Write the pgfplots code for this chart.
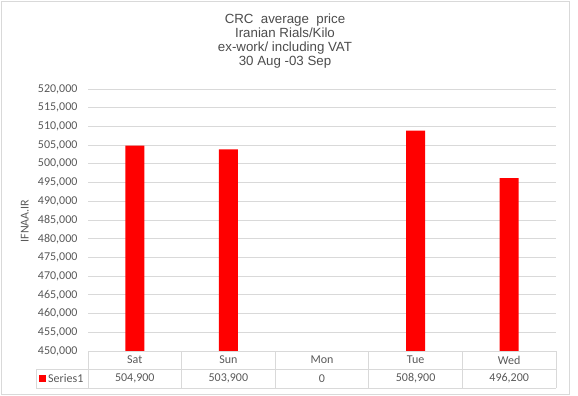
\documentclass[border=0pt]{standalone}
\usepackage{fontspec}
\setmainfont{Carlito}
\newfontfamily\arialf{Liberation Sans}
\usepackage{pgfplots}
\pgfplotsset{compat=1.18}
\definecolor{gridc}{HTML}{D9D9D9}
\definecolor{txt}{HTML}{595959}
\definecolor{barred}{HTML}{FF0000}
\begin{document}
\begin{tikzpicture}[x=1bp,y=1bp]
\path[use as bounding box] (0,0) rectangle (578,395);
\draw[gridc] (1,1) rectangle (569,394);
\node[font=\arialf\fontsize{13.3bp}{14bp}\selectfont, text=txt!85!black, align=center] at (285,354) {CRC\ \ average\ \ price\\Iranian Rials/Kilo\\ex-work/ including VAT\\30 Aug -03 Sep};
\begin{axis}[
  at={(88bp,44bp)}, anchor=south west, scale only axis,
  width=468bp, height=262bp,
  xmin=-0.5, xmax=4.5, ymin=450000, ymax=520000,
  ytick distance=5000, scaled y ticks=false,
  axis line style={draw=none}, major tick length=0pt,
  ymajorgrids, grid style={gridc, line width=0.75bp},
  xtick={0,1,2,3,4}, xticklabels={Sat,Sun,Mon,Tue,Wed},
  xticklabel style={anchor=center, yshift=-9bp},
  extra x ticks={0,1,2,3,4},
  extra x tick labels={{504,900},{503,900},0,{508,900},{496,200}},
  extra x tick style={grid=none, xticklabel style={yshift=-18.5bp}},
  tick label style={font=\fontsize{12bp}{14bp}\selectfont, text=txt},
  yticklabel style={xshift=-7bp},
  /pgf/number format/.cd, fixed, precision=0, 1000 sep={,}, assume math mode=true,
  /pgfplots/.cd,
  ylabel={IFNAA.IR},
  ylabel style={at={(axis description cs:-0.135,0.496)}, anchor=center, font=\fontsize{12bp}{14bp}\selectfont, text=txt},
]
% Mon = 0 lies below the axis range and draws nothing
\addplot[ybar, fill=barred, draw=none, bar width=19bp] coordinates {(0,504900) (1,503900) (3,508900) (4,496200)};
\end{axis}
\begin{scope}[gridc, line width=0.75bp]
\draw (88,44) -- (556,44);
\foreach \k in {0,...,5} {\draw ({88+93.6*\k},44) -- ({88+93.6*\k},7);}
\draw (36,26) -- (556,26);
\draw (36,7) -- (556,7);
\draw (36,26) -- (36,7);
\end{scope}
\fill[barred] (39,13) rectangle (46,20);
\node[anchor=west, font=\fontsize{12bp}{14bp}\selectfont, text=txt, inner sep=0pt] at (48,16.5) {Series1};
\end{tikzpicture}
\end{document}
